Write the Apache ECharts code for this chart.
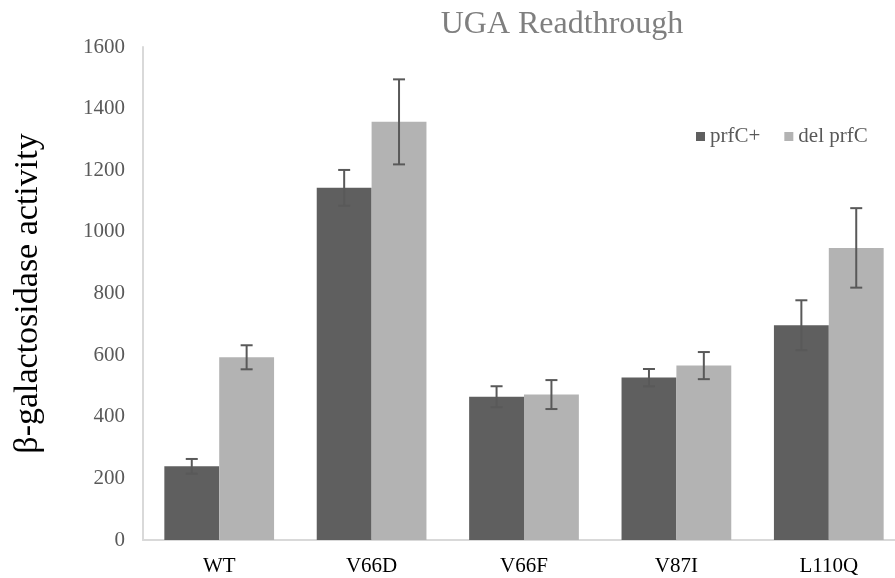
<!DOCTYPE html>
<html>
<head>
<meta charset="utf-8">
<script src="https://cdn.jsdelivr.net/npm/echarts@6/dist/echarts.min.js"></script>
<style>
  html, body { margin: 0; padding: 0; background: #fff; }
  #chart { width: 895px; height: 578px; }
</style>
</head>
<body>
<div id="chart"></div>
<script>
// data
var categories = ['WT', 'V66D', 'V66F', 'V87I', 'L110Q'];
var prfcPlus = [239, 1143, 465, 527, 697];
var prfcPlusErr = [24, 58, 34, 28, 81];
var delPrfc = [593, 1357, 472, 566, 948];
var delPrfcErr = [39, 138, 47, 44, 129];
var yTicks = [0, 200, 400, 600, 800, 1000, 1200, 1400, 1600];

var FONT = '"Liberation Serif", "DejaVu Serif", serif';

// error bars drawn with a custom series, offset to the bar centre
function errorSeries(vals, errs, offset) {
  var d = [];
  for (var i = 0; i < vals.length; i++) {
    d.push([i, vals[i] - errs[i], vals[i] + errs[i]]);
  }
  return {
    type: 'custom',
    data: d,
    z: 10,
    silent: true,
    renderItem: function (params, api) {
      var lo = api.coord([api.value(0), api.value(1)]);
      var hi = api.coord([api.value(0), api.value(2)]);
      var bw = api.size([1, 0])[0];
      var x = lo[0] + bw * offset;
      var cap = 6;
      var st = { stroke: '#595959', lineWidth: 2 };
      return {
        type: 'group',
        children: [
          { type: 'line', shape: { x1: x, y1: lo[1], x2: x, y2: hi[1] }, style: st },
          { type: 'line', shape: { x1: x - cap, y1: hi[1], x2: x + cap, y2: hi[1] }, style: st },
          { type: 'line', shape: { x1: x - cap, y1: lo[1], x2: x + cap, y2: lo[1] }, style: st }
        ]
      };
    }
  };
}

var chart = echarts.init(document.getElementById('chart'));
chart.setOption({
  backgroundColor: '#fff',
  animation: false,
  title: {
    text: 'UGA Readthrough',
    left: 557,
    textAlign: 'center',
    top: 4,
    textStyle: { fontFamily: FONT, fontWeight: 'normal', fontSize: 32, color: '#7f7f7f' }
  },
  legend: {
    left: 691,
    top: 121,
    itemWidth: 9,
    itemHeight: 9,
    itemGap: 24,
    icon: 'rect',
    textStyle: { fontFamily: FONT, fontSize: 21, color: '#595959' },
    data: ['prfC+', 'del prfC']
  },
  // plot area runs a little past the right edge of the picture
  grid: { left: 143, width: 762, top: 47, bottom: 38, outerBoundsMode: 'none', containLabel: false },
  xAxis: {
    type: 'category',
    data: categories,
    axisLine: { lineStyle: { color: '#d9d9d9', width: 2 } },
    axisTick: { show: false },
    axisLabel: { fontFamily: FONT, fontSize: 21, color: '#000', margin: 16 }
  },
  yAxis: {
    type: 'value',
    min: yTicks[0],
    max: yTicks[yTicks.length - 1],
    interval: 200,
    name: 'β-galactosidase activity',
    nameLocation: 'middle',
    nameGap: 98,
    nameTextStyle: { fontFamily: FONT, fontSize: 34, color: '#000' },
    axisLine: { show: true, lineStyle: { color: '#d9d9d9', width: 2 } },
    axisTick: { show: false },
    splitLine: { show: false },
    axisLabel: {
      fontFamily: FONT, fontSize: 21, color: '#595959', margin: 18,
      formatter: function (v) { return String(v); }
    }
  },
  series: [
    {
      name: 'prfC+',
      type: 'bar',
      data: prfcPlus,
      barGap: '0%',
      barCategoryGap: '28%',
      itemStyle: { color: '#5f5f5f' }
    },
    {
      name: 'del prfC',
      type: 'bar',
      data: delPrfc,
      itemStyle: { color: '#b3b3b3' }
    },
    errorSeries(prfcPlus, prfcPlusErr, -0.18),
    errorSeries(delPrfc, delPrfcErr, 0.18)
  ]
});
</script>
</body>
</html>
